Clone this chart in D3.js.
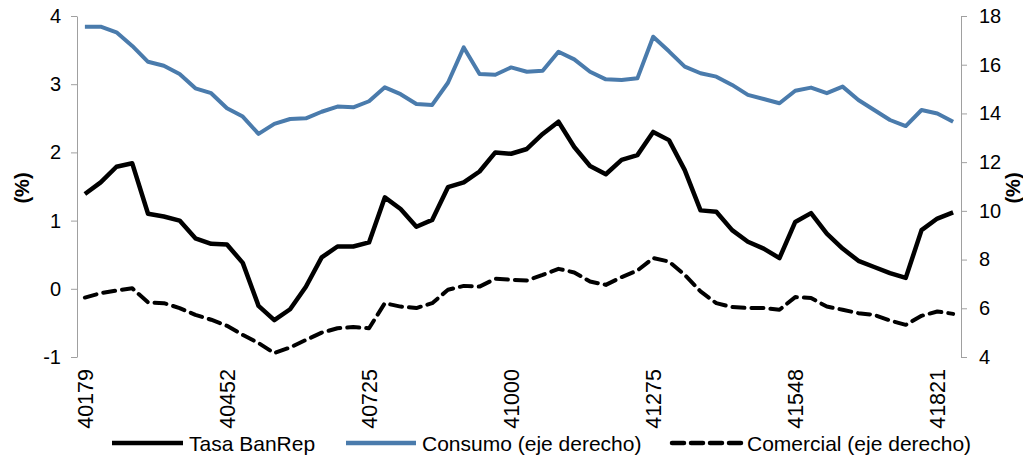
<!DOCTYPE html>
<html>
<head>
  <meta charset="utf-8">
  <script src="https://d3js.org/d3.v7.min.js"></script>
  <style>
  body { margin: 0; background: #fff; }
  svg text { font-family: "Liberation Sans", Arial, sans-serif; fill: #000; }
  .axis path, .axis line { stroke: #a0a0a0; }
  </style>
</head>
<body>
<svg id="chart" width="1023" height="460"></svg>
<script>
// months as excel date serials (jan 2010 .. aug 2014)
var months = [40179, 40210, 40238, 40269, 40299, 40330, 40360, 40391, 40422, 40452, 40483, 40513,
  40544, 40575, 40603, 40634, 40664, 40695, 40725, 40756, 40787, 40817, 40848, 40878,
  40909, 40940, 40969, 41000, 41030, 41061, 41091, 41122, 41153, 41183, 41214, 41244,
  41275, 41306, 41334, 41365, 41395, 41426, 41456, 41487, 41518, 41548, 41579, 41609,
  41640, 41671, 41699, 41730, 41760, 41791, 41821, 41852];

var xTickLabels = [40179, 40452, 40725, 41000, 41275, 41548, 41821];
var leftTicks = [-1, 0, 1, 2, 3, 4];
var rightTicks = [4, 6, 8, 10, 12, 14, 16, 18];

// left axis
var tasa = [1.39, 1.56, 1.79, 1.84, 1.10, 1.06, 1.00, 0.74, 0.66, 0.65, 0.38, -0.25,
  -0.46, -0.30, 0.03, 0.46, 0.62, 0.62, 0.68, 1.34, 1.17, 0.91, 1.01, 1.49,
  1.56, 1.72, 2.00, 1.98, 2.05, 2.27, 2.45, 2.08, 1.80, 1.68, 1.89, 1.96,
  2.30, 2.18, 1.74, 1.15, 1.13, 0.86, 0.69, 0.59, 0.45, 0.98, 1.11, 0.81,
  0.59, 0.41, 0.32, 0.23, 0.16, 0.86, 1.03, 1.12];

// right axis
var consumo = [17.56, 17.56, 17.33, 16.77, 16.12, 15.96, 15.62, 15.03, 14.83, 14.21, 13.87, 13.16,
  13.57, 13.77, 13.80, 14.07, 14.28, 14.25, 14.50, 15.07, 14.79, 14.39, 14.35, 15.26,
  16.71, 15.62, 15.59, 15.89, 15.71, 15.75, 16.53, 16.22, 15.71, 15.40, 15.37, 15.44,
  17.15, 16.55, 15.92, 15.65, 15.51, 15.17, 14.76, 14.59, 14.42, 14.93, 15.06, 14.83,
  15.10, 14.55, 14.14, 13.73, 13.48, 14.14, 14.00, 13.66];

var comercial = [6.44, 6.62, 6.73, 6.82, 6.24, 6.21, 6.01, 5.73, 5.53, 5.28, 4.91, 4.57,
  4.16, 4.39, 4.70, 5.00, 5.18, 5.23, 5.18, 6.21, 6.07, 6.01, 6.21, 6.76,
  6.92, 6.89, 7.21, 7.17, 7.14, 7.37, 7.62, 7.47, 7.10, 6.96, 7.28, 7.55,
  8.06, 7.92, 7.37, 6.69, 6.21, 6.05, 6.01, 6.01, 5.94, 6.46, 6.42, 6.07,
  5.94, 5.80, 5.73, 5.50, 5.32, 5.69, 5.87, 5.77];

var svg = d3.select("#chart");
var plotLeft = 77, plotRight = 961, plotTop = 16, plotBottom = 357;

var x = d3.scaleBand().domain(months).range([plotLeft, plotRight]).padding(0);
var yL = d3.scaleLinear().domain([-1, 4]).range([plotBottom, plotTop]);
var yR = d3.scaleLinear().domain([4, 18]).range([plotBottom, plotTop]);
function cx(m) { return x(m) + x.bandwidth() / 2; }
function plain(d) { return String(d); }

// axes
svg.append("g").attr("class", "axis")
  .attr("transform", "translate(" + plotLeft + ",0)")
  .call(d3.axisLeft(yL).tickValues(leftTicks).tickFormat(plain)
    .tickSize(6).tickSizeOuter(0).tickPadding(10))
  .call(function(g) { g.selectAll("text").style("font-size", "20px"); });

svg.append("g").attr("class", "axis")
  .attr("transform", "translate(" + plotRight + ",0)")
  .call(d3.axisRight(yR).tickValues(rightTicks).tickFormat(plain)
    .tickSize(6).tickSizeOuter(0).tickPadding(12))
  .call(function(g) { g.selectAll("text").style("font-size", "20px"); });

svg.selectAll(".xlab")
  .data(xTickLabels)
  .enter().append("text")
  .attr("class", "xlab")
  .attr("transform", function(d) { return "translate(" + cx(d) + ",369) rotate(-90)"; })
  .attr("dy", "0.36em")
  .style("text-anchor", "end")
  .style("font-size", "21.5px")
  .text(function(d) { return d; });

svg.append("text")
  .attr("transform", "translate(22,188) rotate(-90)")
  .attr("dy", "0.36em")
  .style("text-anchor", "middle")
  .style("font-size", "20px")
  .style("font-weight", "bold")
  .text("(%)");

svg.append("text")
  .attr("transform", "translate(1013,188) rotate(-90)")
  .attr("dy", "0.36em")
  .style("text-anchor", "middle")
  .style("font-size", "20px")
  .style("font-weight", "bold")
  .text("(%)");

// lines
var lineL = d3.line().x(function(d, i) { return cx(months[i]); }).y(function(d) { return yL(d); });
var lineR = d3.line().x(function(d, i) { return cx(months[i]); }).y(function(d) { return yR(d); });

svg.append("path").datum(consumo)
  .attr("d", lineR)
  .attr("fill", "none").attr("stroke", "#4a7bac").attr("stroke-width", 4)
  .attr("stroke-linejoin", "round");

svg.append("path").datum(comercial)
  .attr("d", lineR)
  .attr("fill", "none").attr("stroke", "#000").attr("stroke-width", 4)
  .attr("stroke-dasharray", "12,7").attr("stroke-linecap", "round")
  .attr("stroke-linejoin", "round");

svg.append("path").datum(tasa)
  .attr("d", lineL)
  .attr("fill", "none").attr("stroke", "#000").attr("stroke-width", 4.5)
  .attr("stroke-linejoin", "round");

// legend
var legend = [
  {name: "Tasa BanRep", x1: 112, x2: 183, color: "#000", dash: null},
  {name: "Consumo (eje derecho)", x1: 346, x2: 416, color: "#4a7bac", dash: null},
  {name: "Comercial (eje derecho)", x1: 672, x2: 741, color: "#000", dash: "12,7"}
];
var lg = svg.selectAll(".leg").data(legend).enter().append("g").attr("class", "leg");
lg.append("line")
  .attr("x1", function(d) { return d.x1; }).attr("x2", function(d) { return d.x2; })
  .attr("y1", 443).attr("y2", 443)
  .attr("stroke", function(d) { return d.color; })
  .attr("stroke-width", 4.5)
  .attr("stroke-linecap", function(d) { return d.dash ? "round" : "butt"; })
  .attr("stroke-dasharray", function(d) { return d.dash; });
lg.append("text")
  .attr("x", function(d) { return d.x2 + 6; })
  .attr("y", 443)
  .attr("dy", "0.36em")
  .style("font-size", "21px")
  .text(function(d) { return d.name; });
</script>
</body>
</html>
